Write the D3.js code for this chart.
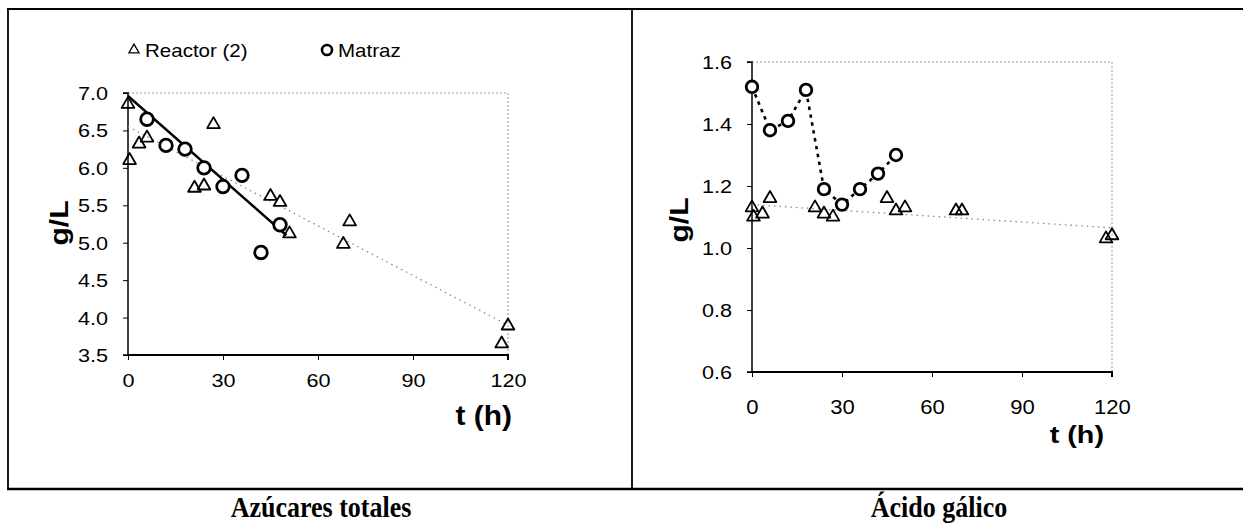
<!DOCTYPE html>
<html>
<head>
<meta charset="utf-8">
<script src="https://cdn.jsdelivr.net/npm/d3@7"></script>
<style>
  html, body { margin: 0; padding: 0; background: #fff; }
  svg { display: block; }
</style>
</head>
<body>
<svg id="chart" width="1243" height="529"></svg>
<script>
// Sampling times (h) and measured concentrations (g/L)
const reactorT      = [0, 0.5, 3.5, 6, 21, 24, 27, 45, 48, 51, 68, 70, 118, 120];
const reactorSugar  = [6.85, 6.10, 6.32, 6.40, 5.73, 5.76, 6.58, 5.62, 5.54, 5.12, 4.98, 5.28, 3.65, 3.89];
const reactorGallic = [1.13, 1.10, 1.11, 1.16, 1.13, 1.11, 1.10, 1.16, 1.12, 1.13, 1.12, 1.12, 1.03, 1.04];

const flaskSugarT   = [6, 12, 18, 24, 30, 36, 42, 48];
const flaskSugar    = [6.65, 6.30, 6.25, 6.00, 5.75, 5.90, 4.87, 5.24];
const flaskGallicT  = [0, 6, 12, 18, 24, 30, 36, 42, 48];
const flaskGallic   = [1.52, 1.38, 1.41, 1.51, 1.19, 1.14, 1.19, 1.24, 1.30];

// Linear trend lines (end points)
const sugarFlaskFitT   = [0, 50];
const sugarFlaskFitY   = [6.96, 5.10];
const sugarReactorFitT = [0, 120];
const sugarReactorFitY = [6.55, 3.90];
const gallicReactorFitT = [0, 120];
const gallicReactorFitY = [1.14, 1.065];

// Axis ticks
const timeTicks   = [0, 30, 60, 90, 120];
const sugarTicks  = [3.5, 4.0, 4.5, 5.0, 5.5, 6.0, 6.5, 7.0];
const gallicTicks = [0.6, 0.8, 1.0, 1.2, 1.4, 1.6];

const legendLabels = ["Reactor (2)", "Matraz"];
const panelTitles  = ["Azúcares totales", "Ácido gálico"];
const yTitle = "g/L";
const xTitle = "t (h)";

const svg = d3.select("#chart");
const SANS = "'Liberation Sans', Arial, sans-serif";
const SERIF = "'Liberation Serif', 'Times New Roman', serif";

// Outer frame of the two-panel figure
const frame = svg.append("g").attr("stroke", "#000").attr("fill", "none");
frame.append("line").attr("x1", 7).attr("x2", 1243).attr("y1", 9).attr("y2", 9).attr("stroke-width", 2);
frame.append("line").attr("x1", 8).attr("x2", 8).attr("y1", 9).attr("y2", 489).attr("stroke-width", 1.8);
frame.append("line").attr("x1", 632).attr("x2", 632).attr("y1", 9).attr("y2", 489).attr("stroke-width", 1.8);
frame.append("line").attr("x1", 7).attr("x2", 1243).attr("y1", 489).attr("y2", 489).attr("stroke-width", 2.5);

// Panel captions
[[321, panelTitles[0]], [939, panelTitles[1]]].forEach(([cx, txt]) => {
  svg.append("text")
    .attr("transform", `translate(${cx},517) scale(1,1.12)`)
    .attr("text-anchor", "middle")
    .attr("font-family", SERIF).attr("font-weight", "bold").attr("font-size", 26)
    .text(txt);
});

const triangle = d3.symbol().type(d3.symbolTriangle).size(70);
const triangleSmall = d3.symbol().type(d3.symbolTriangle).size(45);

function drawPanel(opt) {
  const x = d3.scaleLinear().domain([0, 120]).range(opt.xRange);
  const y = d3.scaleLinear().domain(opt.yDomain).range(opt.yRange);
  const g = svg.append("g");
  const [x0, x1] = opt.xRange;
  const [yb, yt] = opt.yRange;

  // dotted plot-area border (top and right)
  g.append("path")
    .attr("d", `M${x0},${yt}H${x1}V${yb}`)
    .attr("fill", "none").attr("stroke", "#9a9a9a").attr("stroke-width", 1)
    .attr("stroke-dasharray", "2,2");

  // Y axis
  const ya = g.append("g").attr("transform", `translate(${x0},0)`)
    .call(d3.axisLeft(y).tickValues(opt.yTicks).tickSize(5).tickFormat(d3.format(".1f")));
  ya.select(".domain").attr("stroke-width", 1.5).attr("d", `M-5,${yb}H0V${yt}H-5`);
  ya.selectAll(".tick line").attr("stroke-width", 1);
  ya.selectAll(".tick text")
    .attr("x", 0).attr("dy", 0)
    .attr("transform", "translate(-20,6.5) scale(1.17,1)")
    .attr("font-family", SANS).attr("font-size", 18.5).attr("fill", "#000");

  // X axis
  const xa = g.append("g").attr("transform", `translate(0,${yb})`)
    .call(d3.axisBottom(x).tickValues(timeTicks).tickSize(5));
  xa.select(".domain").attr("stroke-width", 2).attr("d", `M${x0},0H${x1}V5`);
  xa.selectAll(".tick line").attr("stroke-width", 1);
  xa.selectAll(".tick text")
    .attr("y", 0).attr("dy", 0)
    .attr("transform", `translate(0,${opt.xLabelOffset}) scale(${opt.xLabelSx},1)`)
    .attr("font-family", SANS).attr("font-size", opt.xLabelSize).attr("fill", "#000");

  // axis titles
  g.append("text")
    .attr("transform", `translate(${opt.yTitlePos[0]},${opt.yTitlePos[1]}) rotate(-90) scale(1.2,1)`)
    .attr("text-anchor", "middle")
    .attr("font-family", SANS).attr("font-weight", "bold").attr("font-size", 25)
    .text(yTitle);
  g.append("text")
    .attr("transform", `translate(${opt.xTitlePos[0]},${opt.xTitlePos[1]}) scale(${opt.xTitleSx},1)`)
    .attr("text-anchor", "end")
    .attr("font-family", SANS).attr("font-weight", "bold").attr("font-size", opt.xTitleSize)
    .text(xTitle);

  const line = d3.line().x(d => x(d[0])).y(d => y(d[1]));

  // reactor trend (grey dotted)
  g.append("path")
    .attr("d", line(d3.zip(opt.rFitT, opt.rFitY)))
    .attr("fill", "none").attr("stroke", "#8a8a8a").attr("stroke-width", 1.3)
    .attr("stroke-dasharray", "1.5,4");

  // flask line
  if (opt.flaskLine) {
    g.append("path")
      .attr("d", line(opt.flaskLine))
      .attr("fill", "none").attr("stroke", "#000")
      .attr("stroke-width", opt.flaskDash ? 2.6 : 2.4)
      .attr("stroke-dasharray", opt.flaskDash || null);
  }

  // reactor triangles
  g.selectAll("path.tri").data(d3.zip(reactorT, opt.reactor)).join("path")
    .attr("class", "tri")
    .attr("d", triangle)
    .attr("transform", d => `translate(${x(d[0])},${y(d[1])})`)
    .attr("fill", "none").attr("stroke", "#000").attr("stroke-width", 1.8)
    .attr("stroke-linejoin", "round");

  // flask circles
  g.selectAll("circle.flask").data(d3.zip(opt.flaskT, opt.flask)).join("circle")
    .attr("class", "flask")
    .attr("cx", d => x(d[0])).attr("cy", d => y(d[1]))
    .attr("r", opt.circleR)
    .attr("fill", "#fff").attr("stroke", "#000").attr("stroke-width", 2.8);
}

drawPanel({
  xRange: [128, 508], yDomain: [3.5, 7.0], yRange: [355, 93], yTicks: sugarTicks,
  xLabelOffset: 32, xLabelSx: 1.17, xLabelSize: 18.5,
  yTitlePos: [68, 223], xTitlePos: [512, 425], xTitleSize: 28, xTitleSx: 1.07,
  reactor: reactorSugar, rFitT: sugarReactorFitT, rFitY: sugarReactorFitY,
  flaskT: flaskSugarT, flask: flaskSugar,
  flaskLine: d3.zip(sugarFlaskFitT, sugarFlaskFitY), flaskDash: null,
  circleR: 6.3
});

drawPanel({
  xRange: [752, 1112], yDomain: [0.6, 1.6], yRange: [372, 62], yTicks: gallicTicks,
  xLabelOffset: 42, xLabelSx: 1.05, xLabelSize: 21,
  yTitlePos: [688, 220], xTitlePos: [1104, 443], xTitleSize: 24, xTitleSx: 1.2,
  reactor: reactorGallic, rFitT: gallicReactorFitT, rFitY: gallicReactorFitY,
  flaskT: flaskGallicT, flask: flaskGallic,
  flaskLine: d3.zip(flaskGallicT, flaskGallic), flaskDash: "3.5,4.5",
  circleR: 5.8
});

// Legend
const lg = svg.append("g");
lg.append("path").attr("d", triangleSmall)
  .attr("transform", "translate(134,50)")
  .attr("fill", "none").attr("stroke", "#000").attr("stroke-width", 1.3);
lg.append("text")
  .attr("transform", "translate(145,57) scale(1.14,1)")
  .attr("font-family", SANS).attr("font-size", 18).text(legendLabels[0]);
lg.append("circle").attr("cx", 327).attr("cy", 50).attr("r", 5)
  .attr("fill", "none").attr("stroke", "#000").attr("stroke-width", 2.6);
lg.append("text")
  .attr("transform", "translate(338,57) scale(1.14,1)")
  .attr("font-family", SANS).attr("font-size", 18).text(legendLabels[1]);
</script>
</body>
</html>
